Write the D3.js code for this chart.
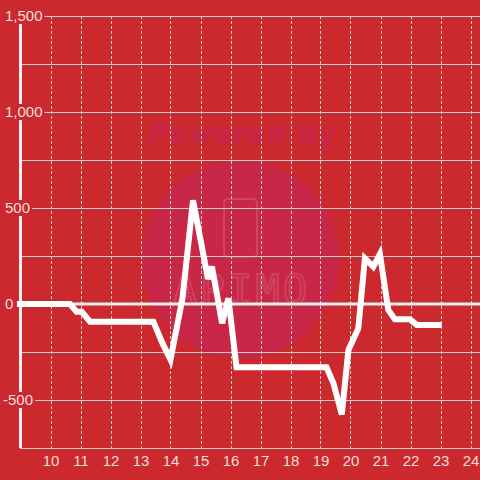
<!DOCTYPE html>
<html>
<head>
<meta charset="utf-8">
<script src="https://cdn.jsdelivr.net/npm/d3@7"></script>
<style>
  html, body { margin: 0; padding: 0; background: #cc292e; }
</style>
</head>
<body>
<div id="chart"></div>
<script>
// hours of the day and the balance at each reading
const hours = [8.88, 10.65, 10.87, 11.04, 11.32, 13.43, 13.72, 14.0, 14.4, 14.75, 15.25, 15.38, 15.72, 15.93, 16.2,
               19.2, 19.43, 19.71, 19.93, 20.26, 20.48, 20.76, 20.98, 21.26, 21.48, 21.98, 22.21, 23.04]
const values = [0, 0, -40, -40, -92, -92, -200, -290, 30, 540, 130, 195, -100, 30, -330,
                -330, -413, -575, -240, -127, 238, 194, 260, -31, -80, -80, -109, -109]
const xTicks = d3.range(10, 25)
const yGrid = d3.range(-750, 1501, 250)
const yLabels = [-500, 0, 500, 1000, 1500]

const width = 480
const height = 480
const bg = "#cc292e"
const textColor = "#f4dede"
const gridColor = "#cdcdcd"
const font = "'Liberation Sans', Arial, sans-serif"

const xScale = d3.scaleLinear([9, 24], [20.5, 470.5])
const yScale = d3.scaleLinear([-750, 1500], [448, 16])

const svg = d3.select("#chart")
    .append("svg")
    .attr("width", width)
    .attr("height", height)
    .attr("viewBox", [0, 0, width, height])
    .style("display", "block")

svg.append("rect")
    .attr("width", width)
    .attr("height", height)
    .attr("fill", bg)

// watermark
const wm = svg.append("g")
wm.append("circle")
    .attr("cx", 240.5).attr("cy", 259).attr("r", 99)
    .attr("fill", "#c92747")
wm.append("text")
    .attr("x", 242).attr("y", 143)
    .attr("text-anchor", "middle")
    .attr("font-family", "'DejaVu Sans', sans-serif")
    .attr("font-weight", "bold")
    .attr("font-style", "italic")
    .attr("font-size", 26)
    .attr("textLength", 186)
    .attr("fill", "#c7264a")
    .text("Powered by")
wm.append("rect")
    .attr("x", 224).attr("y", 199).attr("width", 33).attr("height", 58).attr("rx", 4)
    .attr("fill", "none")
    .attr("stroke", "rgba(255,255,255,0.14)")
    .attr("stroke-width", 2)
wm.append("text")
    .attr("x", 240).attr("y", 304)
    .attr("text-anchor", "middle")
    .attr("font-family", "'DejaVu Sans Mono', monospace")
    .attr("font-size", 40)
    .attr("textLength", 134)
    .attr("fill", "none")
    .attr("stroke", "rgba(255,255,255,0.13)")
    .attr("stroke-width", 2)
    .text("APIMO")

// horizontal grid
svg.append("g")
    .selectAll("line")
    .data(yGrid)
    .join("line")
    .attr("x1", 20).attr("x2", width)
    .attr("y1", d => yScale(d) + 0.5).attr("y2", d => yScale(d) + 0.5)
    .attr("stroke", gridColor)
    .attr("stroke-width", 1)

// vertical dotted grid
svg.append("g")
    .selectAll("line")
    .data(xTicks)
    .join("line")
    .attr("x1", d => Math.round(xScale(d)) + 0.5).attr("x2", d => Math.round(xScale(d)) + 0.5)
    .attr("y1", yScale(1500)).attr("y2", yScale(-750))
    .attr("stroke", gridColor)
    .attr("stroke-width", 1)
    .attr("stroke-dasharray", "3,2")

// zero line
svg.append("line")
    .attr("x1", 17).attr("x2", width)
    .attr("y1", yScale(0)).attr("y2", yScale(0))
    .attr("stroke", "#f4f0f0")
    .attr("stroke-width", 3)

// y axis line
svg.append("line")
    .attr("x1", 20.5).attr("x2", 20.5)
    .attr("y1", yScale(1500)).attr("y2", yScale(-750))
    .attr("stroke", "#f4f0f0")
    .attr("stroke-width", 3)

// data line
const line = d3.line()
    .x((d, i) => xScale(hours[i]))
    .y((d, i) => yScale(values[i]))
    .curve(d3.curveLinear)

svg.append("path")
    .datum(values)
    .attr("d", line)
    .attr("fill", "none")
    .attr("stroke", "#ffffff")
    .attr("stroke-width", 6)
    .attr("stroke-linejoin", "miter")
    .attr("stroke-linecap", "butt")

// y labels with background
const fmt = d => d3.format(",")(d).replace("\u2212", "-")
const yl = svg.append("g")
    .attr("font-family", font)
    .attr("font-size", 15)
yl.selectAll("g")
    .data(yLabels)
    .join("g")
    .each(function (d) {
        const g = d3.select(this)
        const t = g.append("text")
            .attr("x", d < 0 ? 3 : 5)
            .attr("y", yScale(d))
            .attr("dy", "0.35em")
            .attr("fill", textColor)
            .text(fmt(d))
        const bb = t.node().getBBox()
        g.insert("rect", "text")
            .attr("x", bb.x - 2).attr("y", yScale(d) - 8)
            .attr("width", bb.width + 4).attr("height", 16)
            .attr("fill", bg)
    })

// x axis labels
const xAxis = d3.axisBottom(xScale)
    .tickValues(xTicks)
    .tickSize(0)
    .tickPadding(0)
    .tickFormat(d3.format("d"))

svg.append("g")
    .attr("transform", `translate(0,455)`)
    .call(xAxis)
    .call(g => g.select(".domain").remove())
    .call(g => g.selectAll("text")
        .attr("font-family", font)
        .attr("font-size", 15)
        .attr("fill", textColor))
</script>
</body>
</html>
